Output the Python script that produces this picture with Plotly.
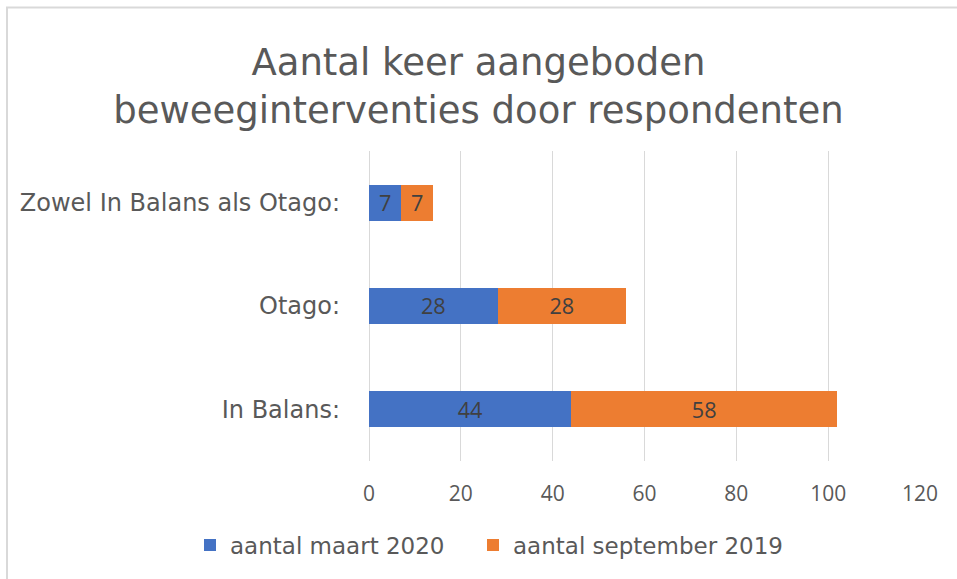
import plotly.graph_objects as go

categories = ["In Balans:", "Otago:", "Zowel In Balans als Otago:"]
maart_2020 = [44, 28, 7]
september_2019 = [58, 28, 7]
series_names = ["aantal maart 2020", "aantal september 2019"]
x_ticks = [0, 20, 40, 60, 80, 100, 120]
title_text = "Aantal keer aangeboden<br>beweeginterventies door respondenten"

FONT = "DejaVu Sans"
NFONT = "Open Sans"
W, H = 957, 579
L, R, T, B = 369, 37, 151, 118
pw, ph = W - L - R, H - T - B

def px_to_paper_x(px):
    return (px - L) / pw

def px_to_paper_y(py):
    return (H - B - py) / ph

fig = go.Figure()
fig.add_trace(go.Bar(
    y=categories, x=maart_2020, name=series_names[0], orientation="h",
    marker=dict(color="#4472C4", line=dict(width=0)),
    text=maart_2020, textposition="inside", insidetextanchor="middle",
    textangle=0, legend="legend",
    textfont=dict(family=NFONT, size=23, color="#404040"),
))
fig.add_trace(go.Bar(
    y=categories, x=september_2019, name=series_names[1], orientation="h",
    marker=dict(color="#ED7D31", line=dict(width=0)),
    text=september_2019, textposition="inside", insidetextanchor="middle",
    textangle=0, legend="legend2",
    textfont=dict(family=NFONT, size=23, color="#404040"),
))

legend_common = dict(orientation="h", xref="container", xanchor="left",
                     yref="container", yanchor="middle", y=(H - 545) / H,
                     font=dict(family=FONT, size=23, color="#595959"),
                     itemwidth=30, bgcolor="rgba(0,0,0,0)")

fig.update_layout(
    width=W, height=H,
    barmode="stack", bargap=0.65,
    margin=dict(l=L, r=R, t=T, b=B, autoexpand=False),
    paper_bgcolor="white", plot_bgcolor="white",
    title=dict(text=title_text, x=0.5, xref="container", xanchor="center",
               y=(H - 75) / H, yref="container", yanchor="middle",
               font=dict(family=FONT, size=37, color="#595959")),
    xaxis=dict(range=[0, 120], tickvals=x_ticks, showgrid=True,
               gridcolor="#d9d9d9", gridwidth=1.3, zeroline=False,
               showline=False, ticks="", ticklabelstandoff=18,
               tickfont=dict(family=NFONT, size=21, color="#595959")),
    yaxis=dict(showgrid=False, zeroline=False, showline=False, ticks="",
               ticklabelstandoff=28,
               tickfont=dict(family=FONT, size=24, color="#595959")),
    legend=dict(x=190 / W, **legend_common),
    legend2=dict(x=473 / W, **legend_common),
    uniformtext=dict(mode="show", minsize=10),
    showlegend=True,
)

# zero line
fig.add_shape(type="line", xref="x", yref="paper", x0=0, x1=0, y0=0, y1=1,
              line=dict(color="#d9d9d9", width=2), layer="below")
# chart border (top and left visible)
fig.add_shape(type="rect", xref="paper", yref="paper",
              x0=px_to_paper_x(7), x1=px_to_paper_x(W + 20),
              y0=px_to_paper_y(H + 20), y1=px_to_paper_y(7.5),
              line=dict(color="#d9d9d9", width=2), fillcolor="rgba(0,0,0,0)")

fig.write_html("out.html", config={"displayModeBar": False},
               post_script="document.body.style.margin='0';")
